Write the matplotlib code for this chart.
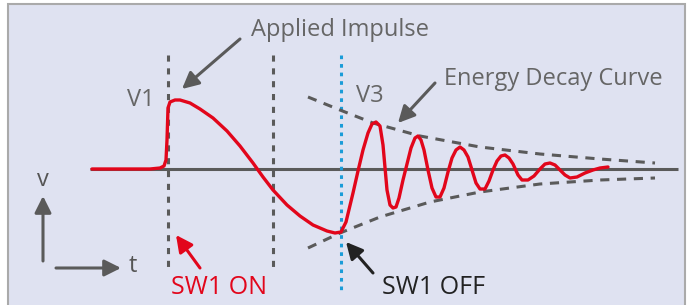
import matplotlib.pyplot as plt
from matplotlib.patches import Rectangle

plt.rcParams['font.family'] = ['Open Sans', 'DejaVu Sans']

# red waveform (pixel coords, y down)
wave_x = [92, 150, 160, 164, 166, 167, 168, 170, 175, 180, 190, 200, 213, 227, 240, 253, 263, 273, 287,
          300, 313, 327, 335, 341, 346, 353, 358, 363, 368, 372, 376, 380, 383, 387, 390, 393, 396, 399,
          403, 407, 411, 415, 418, 421, 424, 428, 432, 436, 440, 444, 448, 452, 456, 460, 464, 468, 472,
          476, 480, 485, 489, 493, 497, 501, 505, 509, 513, 518, 522, 528, 534, 540, 545, 550, 555, 560,
          565, 570, 577, 585, 593, 600, 608]
wave_y = [169, 169, 168, 166, 160, 140, 108, 102, 100, 100, 103, 109, 118, 131, 146, 163, 177, 190, 205,
          216, 225, 231, 233, 232, 222, 193, 171, 150, 133, 124, 122, 126, 145, 190, 205, 208, 207, 198,
          180, 164, 148, 138, 136, 140, 150, 170, 188, 197, 197, 188, 172, 158, 150, 147, 150, 157, 170,
          183, 189, 189, 181, 170, 161, 156, 155, 158, 164, 175, 180, 180, 176, 169, 164, 163, 165, 170,
          175, 178, 177, 173, 170, 168, 167]

# energy decay envelopes
env_up_x = [308, 340, 373, 420, 480, 540, 600, 655]
env_up_y = [97, 110, 123, 136, 147, 154, 159, 163]
env_lo_x = [308, 340, 380, 430, 480, 540, 600, 655]
env_lo_y = [248, 233, 217, 202, 192, 184, 180, 178]

# vertical markers
marker_x = [168, 273]
switch_off_x = 341

labels = ["Applied Impulse", "Energy Decay Curve", "V1", "V3", "SW1 ON", "SW1 OFF", "v", "t"]

gray = '#5a5a5a'
red = '#e2061b'
blue = '#1b9cd8'

fig = plt.figure(figsize=(6.92, 3.05), dpi=100)
ax = fig.add_axes([0, 0, 1, 1])
ax.set_xlim(0, 692)
ax.set_ylim(305, 0)
ax.axis('off')
fig.patch.set_facecolor('white')

ax.add_patch(Rectangle((8, 4), 677, 310, facecolor='#dfe2f1', edgecolor='#aaaaaa', lw=1.5))

# baseline
ax.plot([90, 678], [169, 169], color=gray, lw=2.2, solid_capstyle='butt')

# dashed verticals
for x in marker_x:
    ax.plot([x, x], [55, 270], color=gray, lw=2.2, ls=(0, (2, 2.2)))
ax.plot([switch_off_x] * 2, [55, 292], color=blue, lw=2.2, ls=(0, (1.2, 1.6)))

# envelopes
ax.plot(env_up_x, env_up_y, color=gray, lw=2.2, ls=(0, (3, 2.5)))
ax.plot(env_lo_x, env_lo_y, color=gray, lw=2.2, ls=(0, (3, 2.5)))

# waveform
ax.plot(wave_x, wave_y, color=red, lw=2.4, solid_joinstyle='round', solid_capstyle='round')

def arrow(x0, y0, x1, y1, color):
    ax.annotate('', xy=(x1, y1), xytext=(x0, y0),
                arrowprops=dict(arrowstyle='-|>,head_length=1.0,head_width=0.5', color=color, lw=2.2,
                                shrinkA=0, shrinkB=0))

arrow(240, 39, 182, 89, gray)
arrow(435, 83, 398, 123, gray)
arrow(200, 268, 176, 235, red)
arrow(373, 273, 346, 242, '#222222')
arrow(43, 261, 43, 196, gray)
arrow(56, 268, 121, 268, gray)

fs = 17
ax.text(251, 30, labels[0], color='#666666', fontsize=fs, va='center', ha='left')
ax.text(444, 79, labels[1], color='#666666', fontsize=fs, va='center', ha='left')
ax.text(127, 100, labels[2], color='#666666', fontsize=fs, va='center', ha='left')
ax.text(356, 96, labels[3], color='#666666', fontsize=fs, va='center', ha='left')
ax.text(171, 288, labels[4], color=red, fontsize=18, va='center', ha='left')
ax.text(382, 288, labels[5], color='#222222', fontsize=18, va='center', ha='left')
ax.text(43, 180, labels[6], color='#555555', fontsize=fs, va='center', ha='center')
ax.text(133, 266, labels[7], color='#555555', fontsize=fs, va='center', ha='center')

fig.savefig('out.png', dpi=100)
